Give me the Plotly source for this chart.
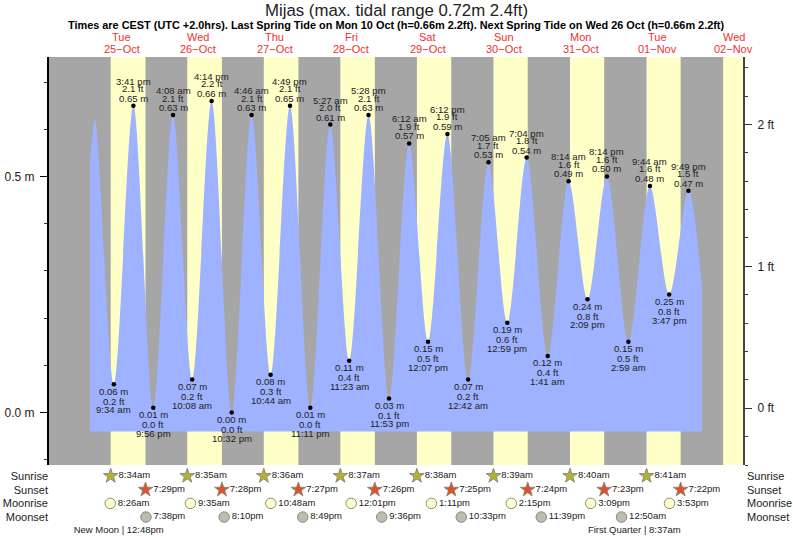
import plotly.graph_objects as go

title = "Mijas (max. tidal range 0.72m 2.4ft)"
subtitle = "Times are CEST (UTC +2.0hrs). Last Spring Tide on Mon 10 Oct (h=0.66m 2.2ft). Next Spring Tide on Wed 26 Oct (h=0.66m 2.2ft)"

# tide extremes, in time order
tide_times = ["2022-10-25 09:34", "2022-10-25 15:41", "2022-10-25 21:56", "2022-10-26 04:08", "2022-10-26 10:08",
              "2022-10-26 16:14", "2022-10-26 22:32", "2022-10-27 04:46", "2022-10-27 10:44", "2022-10-27 16:49",
              "2022-10-27 23:11", "2022-10-28 05:27", "2022-10-28 11:23", "2022-10-28 17:28", "2022-10-28 23:53",
              "2022-10-29 06:12", "2022-10-29 12:07", "2022-10-29 18:12", "2022-10-30 00:42", "2022-10-30 07:05",
              "2022-10-30 12:59", "2022-10-30 19:04", "2022-10-31 01:41", "2022-10-31 08:14", "2022-10-31 14:09",
              "2022-10-31 20:14", "2022-11-01 02:59", "2022-11-01 09:44", "2022-11-01 15:47", "2022-11-01 21:49"]
tide_m = [0.06, 0.65, 0.01, 0.63, 0.07, 0.66, 0.00, 0.63, 0.08, 0.65, 0.01, 0.61, 0.11, 0.63, 0.03, 0.57,
          0.15, 0.59, 0.07, 0.53, 0.19, 0.54, 0.12, 0.49, 0.24, 0.50, 0.15, 0.48, 0.25, 0.47]
tide_ft = ["0.2", "2.1", "0.0", "2.1", "0.2", "2.2", "0.0", "2.1", "0.3", "2.1", "0.0", "2.0", "0.4", "2.1", "0.1",
           "1.9", "0.5", "1.9", "0.2", "1.7", "0.6", "1.8", "0.4", "1.6", "0.8", "1.6", "0.5", "1.6", "0.8", "1.5"]
tide_clock = ["9:34 am", "3:41 pm", "9:56 pm", "4:08 am", "10:08 am", "4:14 pm", "10:32 pm", "4:46 am", "10:44 am",
              "4:49 pm", "11:11 pm", "5:27 am", "11:23 am", "5:28 pm", "11:53 pm", "6:12 am", "12:07 pm", "6:12 pm",
              "12:42 am", "7:05 am", "12:59 pm", "7:04 pm", "1:41 am", "8:14 am", "2:09 pm", "8:14 pm", "2:59 am",
              "9:44 am", "3:47 pm", "9:49 pm"]
tide_high = [False, True] * 15

# ends of the drawn curve
curve_start_times = ["2022-10-25 02:05", "2022-10-25 03:40"]
curve_start_m = [0.535, 0.62]
curve_end_times = ["2022-11-02 02:04"]
curve_end_m = [0.266]
base_m = -0.04

sunrise_times = ["2022-10-25 08:34", "2022-10-26 08:35", "2022-10-27 08:36", "2022-10-28 08:37",
                 "2022-10-29 08:38", "2022-10-30 08:39", "2022-10-31 08:40", "2022-11-01 08:41"]
sunrise_text = ["8:34am", "8:35am", "8:36am", "8:37am", "8:38am", "8:39am", "8:40am", "8:41am"]
sunset_times = ["2022-10-25 19:29", "2022-10-26 19:28", "2022-10-27 19:27", "2022-10-28 19:26",
                "2022-10-29 19:25", "2022-10-30 19:24", "2022-10-31 19:23", "2022-11-01 19:22"]
sunset_text = ["7:29pm", "7:28pm", "7:27pm", "7:26pm", "7:25pm", "7:24pm", "7:23pm", "7:22pm"]
moonrise_times = ["2022-10-25 08:26", "2022-10-26 09:35", "2022-10-27 10:48", "2022-10-28 12:01",
                  "2022-10-29 13:11", "2022-10-30 14:15", "2022-10-31 15:09", "2022-11-01 15:53"]
moonrise_text = ["8:26am", "9:35am", "10:48am", "12:01pm", "1:11pm", "2:15pm", "3:09pm", "3:53pm"]
moonset_times = ["2022-10-25 19:38", "2022-10-26 20:10", "2022-10-27 20:49", "2022-10-28 21:36",
                 "2022-10-29 22:33", "2022-10-30 23:39", "2022-11-01 00:50"]
moonset_text = ["7:38pm", "8:10pm", "8:49pm", "9:36pm", "10:33pm", "11:39pm", "12:50am"]
phase_times = ["2022-10-25 12:48", "2022-11-01 08:37"]
phase_names = ["New Moon |", "First Quarter |"]
phase_text = ["\u00a012:48pm", "\u00a08:37am"]

last_day_start = "2022-11-02 08:42"
x_start = "2022-10-24 13:13"
x_end = "2022-11-02 14:56"

day_noons = ["2022-10-25 12:00", "2022-10-26 12:00", "2022-10-27 12:00", "2022-10-28 12:00", "2022-10-29 12:00",
             "2022-10-30 12:00", "2022-10-31 12:00", "2022-11-01 12:00", "2022-11-02 12:00"]
day_names = ["Tue", "Wed", "Thu", "Fri", "Sat", "Sun", "Mon", "Tue", "Wed"]
day_dates = ["25\u2212Oct", "26\u2212Oct", "27\u2212Oct", "28\u2212Oct", "29\u2212Oct",
             "30\u2212Oct", "31\u2212Oct", "01\u2212Nov", "02\u2212Nov"]

row_names = ["Sunrise", "Sunset", "Moonrise", "Moonset"]
m_ticks = [0.0, 0.5]
m_labels = ["0.0 m", "0.5 m"]
ft_ticks = [0, 1, 2]
ft_labels = ["0 ft", "1 ft", "2 ft"]

FONT = "Liberation Sans"
GREY = "#a6a6a6"
DAY = "#ffffc8"
TIDE = "#9fb2ff"
INK = "#222222"

W, H = 793, 539
top, bottom = 57, 465
split = (H - bottom) / (H - top)

fig = go.Figure()

curve_x = curve_start_times + tide_times + curve_end_times
curve_y = curve_start_m + tide_m + curve_end_m

fig.add_trace(go.Scatter(x=[curve_x[0], curve_x[-1]], y=[base_m, base_m], mode="lines",
                         line=dict(width=0), showlegend=False, hoverinfo="skip"))
fig.add_trace(go.Scatter(x=curve_x, y=curve_y, mode="lines", line=dict(width=0, shape="spline", smoothing=0.9),
                         fill="tonexty", fillcolor=TIDE, showlegend=False, hoverinfo="skip"))
fig.add_trace(go.Scatter(x=tide_times, y=tide_m, mode="markers", marker=dict(color="black", size=4.5),
                         showlegend=False))
# keeps the right hand feet axis on the page
fig.add_trace(go.Scatter(x=[x_start] * 3, y=ft_ticks, yaxis="y2", mode="markers", marker=dict(opacity=0),
                         showlegend=False, hoverinfo="skip"))


def row_trace(times, row, labels, symbol, color, size):
    fig.add_trace(go.Scatter(x=times, y=[row] * len(times), yaxis="y3", mode="markers+text", text=labels,
                             textposition="middle right", textfont=dict(family=FONT, size=9.5, color=INK),
                             marker=dict(symbol=symbol, color=color, size=size, line=dict(color="#8a8a80", width=1)),
                             cliponaxis=False, showlegend=False))


row_trace(sunrise_times, 0, sunrise_text, "star", "#b5b035", 11)
row_trace(sunset_times, 1, sunset_text, "star", "#e0512a", 11)
row_trace(moonrise_times, 2, moonrise_text, "circle", "#ffffcc", 10.5)
row_trace(moonset_times, 3, moonset_text, "circle", "#bdbdaf", 10.5)

# fattens the thin plotly star into the stubby sun icon
for times, row, color in [(sunrise_times, 0, "#b5b035"), (sunset_times, 1, "#e0512a")]:
    fig.add_trace(go.Scatter(x=times, y=[row] * len(times), yaxis="y3", mode="markers",
                             marker=dict(symbol="pentagon", color=color, size=7.5, line=dict(width=0)),
                             cliponaxis=False, showlegend=False))

fig.add_trace(go.Scatter(x=phase_times, y=[4, 4], yaxis="y3", mode="text", text=phase_names,
                         textposition="middle left", textfont=dict(family=FONT, size=9.5, color=INK),
                         cliponaxis=False, showlegend=False))
fig.add_trace(go.Scatter(x=phase_times, y=[4, 4], yaxis="y3", mode="text", text=phase_text,
                         textposition="middle right", textfont=dict(family=FONT, size=9.5, color=INK),
                         cliponaxis=False, showlegend=False))

# background: night grey with daylight bands on top
fig.add_shape(type="rect", xref="x domain", yref="y domain", x0=0, x1=1, y0=0, y1=1,
              fillcolor=GREY, line_width=0, layer="below")
for rise, sett in zip(sunrise_times, sunset_times):
    fig.add_shape(type="rect", xref="x", yref="y domain", x0=rise, x1=sett, y0=0, y1=1,
                  fillcolor=DAY, line_width=0, layer="below")
fig.add_shape(type="rect", xref="x", yref="y domain", x0=last_day_start, x1=x_end, y0=0, y1=1,
              fillcolor=DAY, line_width=0, layer="below")

# tide labels, three tight lines stacked at each point
for t, m, ft, clock, high in zip(tide_times, tide_m, tide_ft, tide_clock, tide_high):
    lines = ["%.2f m" % m, ft + " ft", clock]
    shifts = [7.5, 17, 24.5] if high else [-7, -17, -25.5]
    for line, shift in zip(lines, shifts):
        fig.add_annotation(x=t, y=m, text=line, showarrow=False, xref="x", yref="y", borderpad=0, borderwidth=0,
                           yshift=shift, font=dict(family=FONT, size=9.6, color=INK))

for t, name, date in zip(day_noons, day_names, day_dates):
    fig.add_annotation(x=t, y=1, xref="x", yref="y domain", text=name, showarrow=False, yanchor="middle", yshift=20,
                       font=dict(family=FONT, size=11, color="#f03030"))
    fig.add_annotation(x=t, y=1, xref="x", yref="y domain", text=date, showarrow=False, yanchor="middle", yshift=8,
                       font=dict(family=FONT, size=11, color="#f03030"))

for row, name in enumerate(row_names):
    fig.add_annotation(x=1, y=row, xref="x domain", yref="y3", text=name, showarrow=False, xanchor="left", xshift=2,
                       font=dict(family=FONT, size=11, color=INK))

fig.add_annotation(x=0.5, y=1, xref="paper", yref="paper", yanchor="middle", text=title, showarrow=False, yshift=47,
                   font=dict(family=FONT, size=16.8, color=INK))
fig.add_annotation(x=0.5, y=1, xref="paper", yref="paper", yanchor="middle", text="<b>" + subtitle + "</b>",
                   showarrow=False, yshift=32.5, font=dict(family=FONT, size=10.9, color="black"))

fig.update_layout(
    width=W, height=H, margin=dict(l=49, r=50, t=top, b=0),
    paper_bgcolor="white", plot_bgcolor="white", showlegend=False,
    xaxis=dict(type="date", range=[x_start, x_end], showticklabels=False, ticks="", showgrid=False, zeroline=False,
               anchor="y"),
    yaxis=dict(domain=[split, 1], range=[-0.111, 0.753], tickvals=m_ticks, ticktext=m_labels, ticks="outside",
               ticklen=7, tickcolor="black", showgrid=False, zeroline=False, showline=True, linecolor="black",
               linewidth=2, ticklabelstandoff=3, tickfont=dict(family=FONT, size=12, color=INK),
               minor=dict(dtick=0.1, tick0=0, ticks="outside", ticklen=3, tickcolor="#333333")),
    yaxis2=dict(domain=[split, 1], overlaying="y", side="right", anchor="x", range=[-0.4, 2.475], tickvals=ft_ticks,
                ticktext=ft_labels, ticks="outside", ticklen=7, tickcolor="#333333", showgrid=False, zeroline=False,
                showline=True, linecolor="#444444", linewidth=2, ticklabelstandoff=3,
                tickfont=dict(family=FONT, size=12, color=INK),
                minor=dict(dtick=0.2, tick0=0, ticks="outside", ticklen=3, tickcolor="#333333")),
    yaxis3=dict(domain=[0, split], range=[4.6, -0.8], anchor="x", tickvals=[0, 1, 2, 3], ticktext=row_names,
                ticks="", showgrid=False, zeroline=False, showline=False,
                tickfont=dict(family=FONT, size=11, color=INK)),
)

# the page's default body margin would push the figure 8px in
fig.write_html("out.html", config={"displayModeBar": False}, post_script="document.body.style.margin = '0';")
